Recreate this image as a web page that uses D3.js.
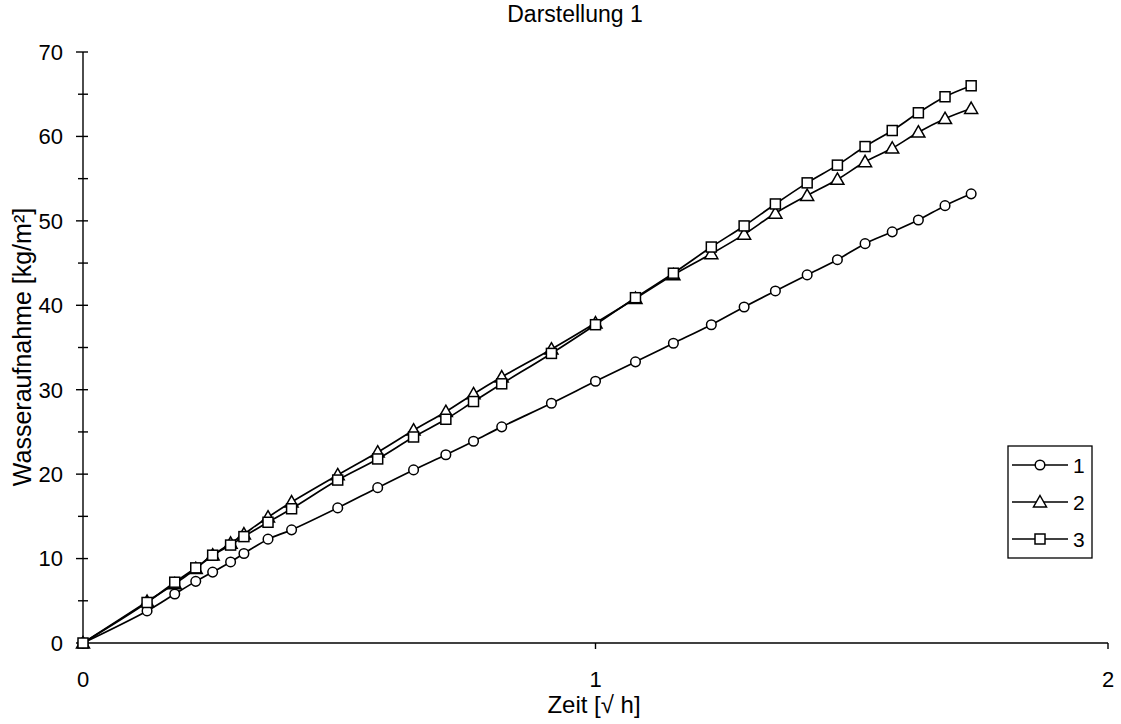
<!DOCTYPE html>
<html>
<head>
<meta charset="utf-8">
<script src="https://cdn.jsdelivr.net/npm/d3@7"></script>
<style>
  html, body { margin: 0; padding: 0; background: #fff; }
  svg { display: block; font-family: "Liberation Sans", Arial, sans-serif; }
</style>
</head>
<body>
<svg id="chart" width="1121" height="724"></svg>
<script>
// x values in sqrt(h)
const zeit = [0, 0.125, 0.179, 0.220, 0.253, 0.288, 0.314, 0.361, 0.407, 0.497, 0.575, 0.645, 0.708, 0.762, 0.817, 0.914, 1.0, 1.078, 1.152, 1.226, 1.290, 1.351, 1.413, 1.472, 1.526, 1.579, 1.630, 1.682, 1.733];
const serie1 = [0, 3.8, 5.8, 7.3, 8.4, 9.6, 10.6, 12.3, 13.4, 16.0, 18.4, 20.5, 22.3, 23.9, 25.6, 28.4, 31.0, 33.3, 35.5, 37.7, 39.8, 41.7, 43.6, 45.4, 47.3, 48.7, 50.1, 51.8, 53.2];
const serie2 = [0, 4.9, 7.0, 8.8, 10.4, 11.8, 12.9, 14.9, 16.7, 19.9, 22.6, 25.2, 27.4, 29.5, 31.5, 34.8, 37.9, 40.8, 43.6, 46.1, 48.4, 50.9, 53.0, 54.9, 57.0, 58.6, 60.5, 62.1, 63.3];
const serie3 = [0, 4.8, 7.2, 8.9, 10.4, 11.6, 12.6, 14.3, 15.9, 19.3, 21.8, 24.4, 26.5, 28.6, 30.7, 34.3, 37.7, 40.9, 43.8, 46.9, 49.4, 52.0, 54.5, 56.6, 58.8, 60.7, 62.8, 64.7, 66.0];
const seriesNames = ["1", "2", "3"];
const markerTypes = ["circle", "triangle", "square"];
const xTicks = [0, 1, 2];
const yTicks = [0, 10, 20, 30, 40, 50, 60, 70];
const yMinorTicks = [5, 15, 25, 35, 45, 55, 65];
const title = "Darstellung 1";
const xTitle = "Zeit [\u221A h]";
const yTitle = "Wasseraufnahme [kg/m\u00B2]";

const svg = d3.select("#chart");
const x = d3.scaleLinear().domain([0, 2]).range([83, 1108]);
const y = d3.scaleLinear().domain([0, 70]).range([643, 52]);

// title
svg.append("text").attr("x", 575).attr("y", 22).attr("text-anchor", "middle")
  .attr("font-size", 23).text(title);

// y axis
const yAxisG = svg.append("g").attr("transform", "translate(83,0)");
yAxisG.append("line").attr("x1", 0).attr("x2", 0).attr("y1", y(70)).attr("y2", y(0))
  .attr("stroke", "#000").attr("stroke-width", 1.4);
yAxisG.selectAll("line.maj").data(yTicks).join("line").attr("class", "maj")
  .attr("x1", -7).attr("x2", 5).attr("y1", d => y(d)).attr("y2", d => y(d))
  .attr("stroke", "#000").attr("stroke-width", 1.4);
yAxisG.selectAll("line.min").data(yMinorTicks).join("line").attr("class", "min")
  .attr("x1", -5).attr("x2", 5).attr("y1", d => y(d)).attr("y2", d => y(d))
  .attr("stroke", "#000").attr("stroke-width", 1.4);
yAxisG.selectAll("text").data(yTicks).join("text")
  .attr("x", -20).attr("y", d => y(d)).attr("dy", "0.36em")
  .attr("text-anchor", "end").attr("font-size", 22).text(d => d);

// x axis
const xAxisG = svg.append("g").attr("transform", "translate(0,643)");
xAxisG.append("line").attr("x1", x(0)).attr("x2", x(2)).attr("y1", 0).attr("y2", 0)
  .attr("stroke", "#000").attr("stroke-width", 1.6);
xAxisG.selectAll("line.tk").data(xTicks).join("line").attr("class", "tk")
  .attr("x1", d => x(d)).attr("x2", d => x(d)).attr("y1", 0).attr("y2", 6)
  .attr("stroke", "#000").attr("stroke-width", 1.4);
xAxisG.selectAll("text").data(xTicks).join("text")
  .attr("x", d => x(d)).attr("y", 44).attr("text-anchor", "middle")
  .attr("font-size", 22).text(d => d);

// axis titles
svg.append("text").attr("x", 594).attr("y", 713).attr("text-anchor", "middle")
  .attr("font-size", 24).text(xTitle);
svg.append("text").attr("transform", "translate(31,347) rotate(-90)")
  .attr("text-anchor", "middle").attr("font-size", 25).text(yTitle);

// series
const allSeries = [serie1, serie2, serie3];
const line = d3.line().x(d => x(d[0])).y(d => y(d[1])).curve(d3.curveCatmullRom.alpha(0.5));

function drawMarker(g, type, cx, cy) {
  if (type === "circle") {
    g.append("circle").attr("cx", cx).attr("cy", cy).attr("r", 4.8)
      .attr("fill", "#fff").attr("stroke", "#000").attr("stroke-width", 1.5);
  } else if (type === "triangle") {
    const s = 6.5;
    g.append("path").attr("d", `M${cx},${cy - s} L${cx + s},${cy + s * 0.75} L${cx - s},${cy + s * 0.75} Z`)
      .attr("fill", "#fff").attr("stroke", "#000").attr("stroke-width", 1.5);
  } else {
    const s = 5;
    g.append("rect").attr("x", cx - s).attr("y", cy - s).attr("width", 2 * s).attr("height", 2 * s)
      .attr("fill", "#fff").attr("stroke", "#000").attr("stroke-width", 1.5);
  }
}

allSeries.forEach((vals, i) => {
  const pts = zeit.map((t, j) => [t, vals[j]]);
  svg.append("path").datum(pts).attr("d", line)
    .attr("fill", "none").attr("stroke", "#000").attr("stroke-width", 1.7);
});
allSeries.forEach((vals, i) => {
  const g = svg.append("g");
  zeit.forEach((t, j) => drawMarker(g, markerTypes[i], x(t), y(vals[j])));
});

// legend
const lg = svg.append("g");
lg.append("rect").attr("x", 1008).attr("y", 446).attr("width", 84).attr("height", 112)
  .attr("fill", "#fff").attr("stroke", "#000").attr("stroke-width", 1.3);
seriesNames.forEach((name, i) => {
  const ly = 465 + i * 37;
  lg.append("line").attr("x1", 1012).attr("x2", 1068).attr("y1", ly).attr("y2", ly)
    .attr("stroke", "#000").attr("stroke-width", 1.7);
  drawMarker(lg, markerTypes[i], 1040, ly);
  lg.append("text").attr("x", 1073).attr("y", ly).attr("dy", "0.36em")
    .attr("font-size", 21).text(name);
});
</script>
</body>
</html>
